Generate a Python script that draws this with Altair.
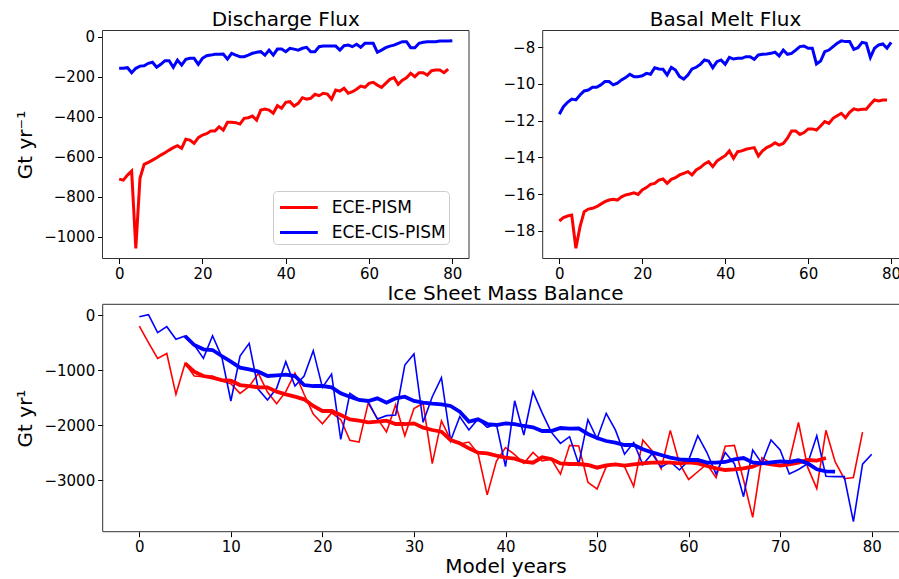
import altair as alt
import pandas as pd

# ---------------- data ----------------
models = ["ECE-PISM", "ECE-CIS-PISM"]
colors = ["#ff0000", "#0000ff"]
panel_titles = ["Discharge Flux", "Basal Melt Flux", "Ice Sheet Mass Balance"]
y_titles = ["Gt yr\u207b\u00b9", "Gt yr\u00b9"]
x_title = "Model years"

top_x_ticks = [0, 20, 40, 60, 80]
discharge_y_ticks = [0, -200, -400, -600, -800, -1000]
basal_y_ticks = [-8, -10, -12, -14, -16, -18]
smb_x_ticks = [0, 10, 20, 30, 40, 50, 60, 70, 80]
smb_y_ticks = [0, -1000, -2000, -3000]

# Discharge flux (Gt/yr), red: years 0-79, blue: years 0-80
discharge_red = [
    -712, -717, -692, -672, -1058, -708, -638, -628, -617, -605,
    -592, -580, -567, -555, -545, -558, -513, -517, -533, -505,
    -492, -485, -472, -472, -450, -467, -428, -428, -430, -437,
    -408, -405, -397, -417, -367, -362, -367, -383, -345, -358,
    -328, -325, -347, -333, -305, -312, -308, -288, -295, -283,
    -287, -312, -267, -272, -258, -283, -275, -263, -247, -253,
    -233, -228, -242, -253, -233, -213, -205, -238, -217, -205,
    -183, -200, -180, -180, -192, -170, -167, -167, -180, -162]
discharge_blue = [
    -158, -158, -155, -180, -158, -147, -145, -133, -128, -153,
    -138, -120, -120, -153, -117, -142, -113, -108, -108, -138,
    -108, -95, -92, -88, -88, -87, -112, -83, -92, -100,
    -100, -92, -83, -78, -75, -92, -67, -92, -62, -62,
    -75, -58, -62, -67, -58, -53, -75, -75, -50, -47,
    -47, -47, -47, -67, -45, -42, -50, -38, -53, -33,
    -33, -33, -78, -67, -55, -47, -42, -33, -25, -25,
    -55, -55, -33, -28, -25, -25, -25, -22, -22, -22, -20]

# Basal melt flux (Gt/yr)
basal_red = [
    -17.47, -17.29, -17.2, -17.15, -18.96, -17.78, -16.96, -16.82, -16.78, -16.69,
    -16.55, -16.42, -16.33, -16.29, -16.33, -16.15, -16.05, -16.0, -15.93, -16.02,
    -15.78, -15.65, -15.47, -15.42, -15.24, -15.18, -15.42, -15.2, -15.11, -14.96,
    -14.87, -14.78, -14.96, -14.69, -14.56, -14.36, -14.24, -14.51, -14.2, -14.05,
    -13.91, -13.65, -14.05, -13.69, -13.65, -13.56, -13.51, -13.47, -13.93, -13.65,
    -13.47, -13.36, -13.2, -13.33, -13.24, -12.96, -12.56, -12.56, -12.75, -12.65,
    -12.45, -12.45, -12.51, -12.29, -12.05, -12.15, -11.87, -11.73, -11.6, -11.84,
    -11.55, -11.36, -11.42, -11.38, -11.38, -11.11, -10.87, -10.93, -10.87, -10.87]
basal_blue = [
    -11.65, -11.24, -11.0, -10.82, -10.87, -10.6, -10.38, -10.33, -10.18, -10.18,
    -10.05, -9.87, -9.87, -10.05, -9.96, -9.78, -9.65, -9.47, -9.6, -9.6,
    -9.55, -9.42, -9.47, -9.11, -9.18, -9.2, -9.51, -9.09, -9.24, -9.6,
    -9.73, -9.51, -9.18, -9.09, -8.93, -8.69, -8.75, -9.11, -8.78, -8.69,
    -8.93, -8.55, -8.64, -8.6, -8.6, -8.51, -8.51, -8.65, -8.42, -8.38,
    -8.36, -8.33, -8.27, -8.47, -8.15, -8.38, -8.33, -8.15, -7.96, -7.93,
    -8.05, -8.05, -8.91, -8.75, -8.24, -8.15, -7.96, -7.78, -7.65, -7.69,
    -7.69, -8.11, -8.02, -7.73, -7.78, -8.55, -8.05, -7.87, -7.82, -8.05, -7.73]

# Ice sheet mass balance (Gt/yr), annual values
smb_red = [
    -200, -500, -790, -700, -1442, -879, -1109, -1120, -1110, -1200,
    -1250, -1424, -1300, -1060, -1400, -1612, -1394, -1055, -1440, -1800,
    -1976, -1780, -1900, -2280, -2310, -1600, -1885, -2127, -1630, -2197,
    -1700, -1606, -2703, -1924, -2266, -2348, -2310, -2520, -3270, -2660,
    -2410, -2540, -2697, -2500, -2654, -2620, -2894, -2370, -2380, -3042,
    -3163, -2757, -2709, -2757, -3115, -2273, -2466, -2795, -2097, -2697,
    -2990, -2850, -2709, -2957, -2385, -2370, -3000, -3680, -2597, -2697,
    -2739, -2660, -1954, -2766, -3157, -2097, -2666, -2976, -2954, -2130]
smb_blue = [
    -30, 6, -321, -212, -442, -382, -545, -788, -376, -758,
    -1563, -745, -515, -1351, -1545, -1333, -848, -1291, -1109, -648,
    -1315, -1073, -2260, -1424, -1533, -1576, -1891, -1830, -1818, -909,
    -709, -1951, -1485, -1139, -2285, -1848, -2091, -1891, -2042, -1982,
    -2757, -1560, -2182, -1394, -1780, -2130, -2333, -2212, -2712, -1903,
    -2250, -1788, -2090, -2530, -2318, -2724, -2521, -2766, -2666, -2818,
    -2642, -2194, -2500, -2894, -2500, -2703, -3303, -2454, -2697, -2273,
    -2454, -2891, -2809, -2703, -2194, -2933, -2939, -2939, -3757, -2712, -2533]
# running means (thick lines), starting at year 5
smb_red_mean = [
    -879, -1030, -1109, -1139, -1182, -1194, -1273, -1291, -1315, -1315,
    -1394, -1442, -1485, -1533, -1654, -1745, -1745, -1818, -1897, -1921,
    -1951, -1939, -1921, -1982, -1982, -1970, -2048, -2091, -2121, -2273,
    -2333, -2424, -2503, -2515, -2557, -2594, -2612, -2666, -2685, -2588,
    -2618, -2697, -2709, -2709, -2727, -2776, -2733, -2715, -2739, -2715,
    -2697, -2685, -2679, -2685, -2697, -2680, -2697, -2745, -2788, -2818,
    -2806, -2788, -2757, -2685, -2715, -2739, -2715, -2685, -2636, -2648, -2600]
smb_blue_mean = [
    -382, -545, -624, -636, -745, -848, -957, -988, -1030, -1109,
    -1097, -1085, -1109, -1273, -1291, -1291, -1315, -1424, -1485, -1545,
    -1563, -1515, -1594, -1515, -1485, -1563, -1594, -1612, -1624, -1654,
    -1757, -1939, -1897, -1982, -2000, -1970, -1982, -2018, -2042, -2109,
    -2109, -2054, -2066, -2060, -2163, -2236, -2291, -2321, -2363, -2363,
    -2442, -2497, -2545, -2594, -2624, -2636, -2636, -2685, -2685, -2672,
    -2624, -2600, -2679, -2697, -2679, -2660, -2672, -2642, -2697, -2806,
    -2842, -2848]
mean_start = 5


def long_table(red, blue, start=0):
    rows = []
    for i, v in enumerate(red):
        rows.append({"year": start + i, "value": v, "model": models[0]})
    for i, v in enumerate(blue):
        rows.append({"year": start + i, "value": v, "model": models[1]})
    return pd.DataFrame(rows)


df_dis = long_table(discharge_red, discharge_blue)
df_bas = long_table(basal_red, basal_blue)
df_smb = long_table(smb_red, smb_blue)
df_smb_mean = long_table(smb_red_mean, smb_blue_mean, mean_start)
one = pd.DataFrame({"k": [0]})

# ---------------- layout ----------------
W, H = 899, 579
FONT = "DejaVu Sans"
# plot boxes: (left, right, top, bottom) in pixels
TL = (102.5, 469.0, 30.5, 258.5)
TR = (542.7, 900.0, 30.5, 258.5)
BT = (102.7, 900.0, 304.3, 531.7)
FULL_RIGHT = 908.3  # right edge of the (cropped) right-hand axes

axis_style = dict(grid=False, domain=False, tickSize=5, tickColor="black", tickWidth=1,
                  labelFont=FONT, labelFontSize=15, labelColor="black", labelPadding=3,
                  labelFlush=False, labelOverlap=False, format="d",
                  titleFont=FONT, titleFontSize=20, titleFontWeight="normal",
                  titleColor="black")

LEG_PAD = 3
color = alt.Color(
    "model:N", title=None,
    scale=alt.Scale(domain=models, range=colors),
    legend=alt.Legend(orient="none", legendX=273, legendY=191,
                      symbolType="M-1.575,0L1.575,0", symbolSize=576, symbolStrokeWidth=3,
                      symbolOffset=12.4 - LEG_PAD,
                      labelFont=FONT, labelFontSize=17, labelColor="black",
                      labelOffset=19.3, padding=LEG_PAD, rowPadding=3,
                      strokeColor="#cccccc", cornerRadius=4, fillColor="white"))


def encodings(box, xdom, ydom, xticks, yticks, ytitle, xtitle):
    x = alt.X("year:Q", title=xtitle,
              scale=alt.Scale(domain=xdom, range=[box[0], box[1]], zero=False, nice=False),
              axis=alt.Axis(orient="bottom", offset=box[3] - H, values=xticks,
                            titlePadding=2, titleX=(box[0] + FULL_RIGHT) / 2, **axis_style))
    y = alt.Y("value:Q", title=ytitle,
              scale=alt.Scale(domain=ydom, range=[box[3], box[2]], zero=False, nice=False),
              axis=alt.Axis(orient="left", offset=-box[0], values=yticks,
                            titlePadding=8, **axis_style))
    return x, y


x1, y1 = encodings(TL, [-4, 84], [-1109, 31], top_x_ticks, discharge_y_ticks, y_titles[0], None)
dis = alt.Chart(df_dis).mark_line(strokeWidth=3, clip=True).encode(x=x1, y=y1, color=color)

x2, y2 = encodings(TR, [-4, 82.14], [-19.516, -7.084], top_x_ticks, basal_y_ticks, None, None)
bas = alt.Chart(df_bas).mark_line(strokeWidth=3, clip=True).encode(x=x2, y=y2, color=color)

x3, y3 = encodings(BT, [-4, 83.09], [-3940, 195], smb_x_ticks, smb_y_ticks, y_titles[1], x_title)
smb_thin = alt.Chart(df_smb).mark_line(strokeWidth=1.6, clip=True).encode(x=x3, y=y3, color=color)
smb_thick = alt.Chart(df_smb_mean).mark_line(strokeWidth=3.8, clip=True).encode(x=x3, y=y3, color=color)
smb = alt.layer(smb_thin, smb_thick)


def box_frame(box):
    return alt.Chart(one).mark_rect(fillOpacity=0, stroke="#333333", strokeWidth=1).encode(
        x=alt.value(box[0]), x2=alt.value(box[1]), y=alt.value(box[2]), y2=alt.value(box[3]))


def title_text(text, box, baseline_y):
    right = box[1] if box[1] < W else FULL_RIGHT
    return alt.Chart(one).mark_text(text=text, font=FONT, fontSize=20, color="black",
                                    align="center", baseline="alphabetic").encode(
        x=alt.value((box[0] + right) / 2), y=alt.value(baseline_y))


chart = alt.layer(
    box_frame(TL), box_frame(TR), box_frame(BT),
    dis, bas, smb,
    title_text(panel_titles[0], TL, 26),
    title_text(panel_titles[1], TR, 26),
    title_text(panel_titles[2], BT, 300),
).resolve_scale(x="independent", y="independent").properties(
    width=W, height=H, padding=0, background="white",
    autosize=alt.AutoSizeParams(type="none"),
).configure_view(strokeWidth=0)

chart.save("out.html", embed_options={"renderer": "svg", "actions": False})
